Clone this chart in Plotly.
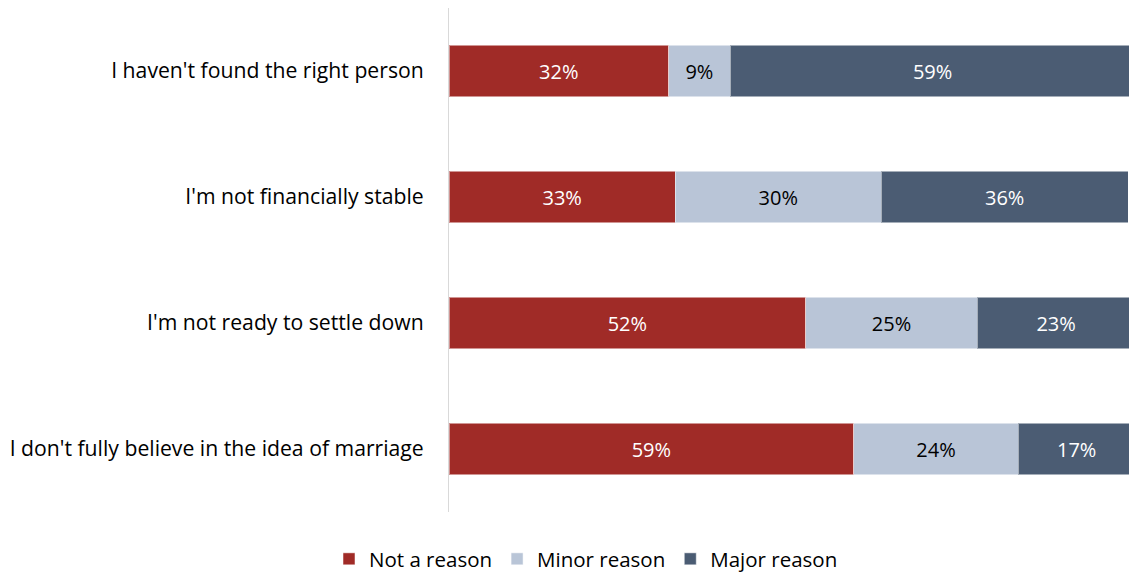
import plotly.graph_objects as go

# Survey reasons (top to bottom) and their response shares (%)
categories = [
    "I haven't found the right person",
    "I'm not financially stable",
    "I'm not ready to settle down",
    "I don't fully believe in the idea of marriage",
]
not_a_reason = [32, 33, 52, 59]
minor_reason = [9, 30, 25, 24]
major_reason = [59, 36, 23, 17]

series = [
    ("Not a reason", not_a_reason, "#A02B27", "#FFFFFF"),
    ("Minor reason", minor_reason, "#B9C5D7", "#000000"),
    ("Major reason", major_reason, "#4B5C73", "#FFFFFF"),
]

FONT = "Open Sans"

fig = go.Figure()
for name, vals, color, txtcolor in series:
    fig.add_trace(go.Bar(
        y=categories,
        x=vals,
        name=name,
        orientation="h",
        marker=dict(color=color, line=dict(color="rgba(255,255,255,0.5)", width=1)),
        text=[f"{v}%" for v in vals],
        textposition="inside",
        insidetextanchor="middle",
        textangle=0,
        textfont=dict(family=FONT, size=20, color=txtcolor),
        hoverinfo="skip",
    ))

W, H = 1129, 573
left, right, top, bottom = 449, 0, 8, 61
plot_w = W - left - right
plot_h = H - top - bottom

fig.update_layout(
    width=W,
    height=H,
    barmode="stack",
    bargap=0.595,
    margin=dict(l=left, r=right, t=top, b=bottom, autoexpand=False),
    paper_bgcolor="white",
    plot_bgcolor="white",
    font=dict(family=FONT, size=21, color="#000000"),
    showlegend=True,
    legend=dict(
        orientation="h",
        x=(586 - left) / plot_w,
        xanchor="center",
        y=-(559 - (top + plot_h)) / plot_h,
        yanchor="middle",
        font=dict(family=FONT, size=20.5, color="#000000"),
        itemwidth=30,
        traceorder="normal",
    ),
    uniformtext=dict(minsize=10, mode="show"),
)
fig.update_xaxes(
    range=[0, 100 * plot_w / 686],
    showgrid=False,
    zeroline=False,
    showticklabels=False,
    showline=False,
    fixedrange=True,
)
fig.update_yaxes(
    categoryorder="array",
    categoryarray=categories[::-1],
    showgrid=False,
    zeroline=False,
    showline=True,
    linecolor="#D9D9D9",
    linewidth=1,
    ticks="",
    ticklabelstandoff=20,
    automargin=False,
    tickfont=dict(family=FONT, size=21.2, color="#000000"),
    fixedrange=True,
)

fig.write_html("out.html")
